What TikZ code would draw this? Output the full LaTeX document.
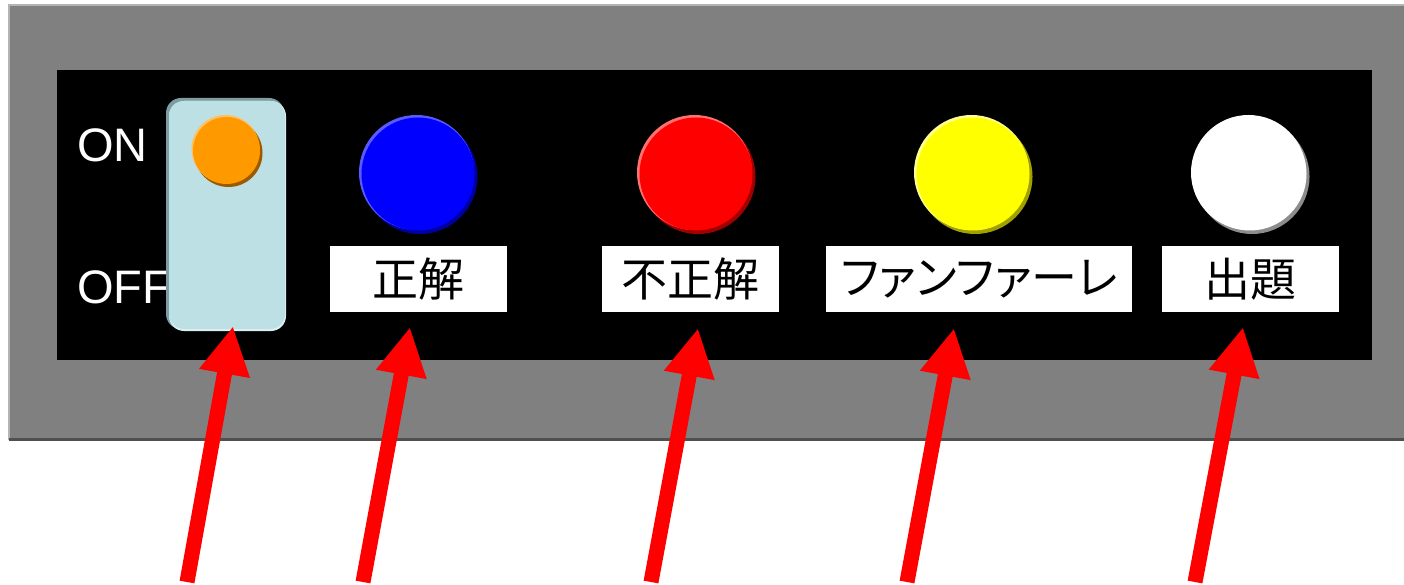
\documentclass[tikz,border=0pt]{standalone}
\usepackage{fontspec}
\setmainfont{Liberation Sans}
\newfontfamily\cjk{Noto Sans CJK JP}
\newfontfamily\cjkp[RawFeature=+palt]{Noto Sans CJK JP}
\usetikzlibrary{arrows.meta,calc}
\definecolor{panelgrey}{HTML}{808080}
\definecolor{panellight}{HTML}{B4B4B4}
\definecolor{paneldark}{HTML}{505050}
\definecolor{swfill}{HTML}{BCE0E3}
\definecolor{swdark}{HTML}{7C9EA2}
\definecolor{swlight}{HTML}{DCEFF1}
\definecolor{knobfill}{HTML}{FF9900}
\definecolor{knobdark}{HTML}{9C5A00}
\definecolor{knoblight}{HTML}{FFC060}
\definecolor{bluebtn}{HTML}{0000FF}
\definecolor{bluehi}{HTML}{5A5AFF}
\definecolor{bluesh}{HTML}{0000A0}
\definecolor{redbtn}{HTML}{FF0000}
\definecolor{redhi}{HTML}{FF7070}
\definecolor{redsh}{HTML}{A00000}
\definecolor{yelbtn}{HTML}{FFFF00}
\definecolor{yelhi}{HTML}{FFFF90}
\definecolor{yelsh}{HTML}{A0A000}
\definecolor{whtbtn}{HTML}{FFFFFF}
\definecolor{whthi}{HTML}{FFFFFF}
\definecolor{whtsh}{HTML}{8C8C8C}
\definecolor{arrowred}{HTML}{FF0000}
\tikzset{
  button/.style={circle, minimum size=116pt, inner sep=0pt},
  labelbox/.style={rectangle, fill=white, minimum height=66pt, inner sep=0pt, font=\cjk\fontsize{46pt}{50pt}\selectfont, text=black},
  sidetext/.style={anchor=base west, inner sep=0pt, text=white, font=\fontsize{47pt}{52pt}\selectfont},
  redarrow/.style={draw=arrowred, line width=15pt, -{Triangle[length=48pt, width=48pt]}, fill=arrowred},
}
\begin{document}
\begin{tikzpicture}[x=1pt,y=-1pt]
\useasboundingbox (0,0) rectangle (1404,585);
\fill[white] (0,0) rectangle (1404,585);
% outer grey panel
\fill[panelgrey] (9,5) rectangle (1404,440);
\draw[panellight, line width=2pt] (9,440) -- (9,5) -- (1404,5);
\draw[paneldark, line width=2.5pt] (9,439.5) -- (1404,439.5);
% black face
\fill[black] (57,70) rectangle (1372,360);
% ON / OFF
\node[sidetext] (on) at (77,162) {ON};
\node[sidetext] (off) at (77,303) {OFF};
% switch
\fill[swdark, rounded corners=15pt] (166,98) rectangle (284,329);
\fill[swlight, rounded corners=15pt] (169,101) rectangle (286,331);
\node[rectangle, rounded corners=15pt, fill=swfill, minimum width=116pt, minimum height=228pt, inner sep=0pt] (sw) at (227,215) {};
\fill[knobdark] (228.5,153) circle[radius=34pt];
\fill[knoblight] (225.5,149) circle[radius=34pt];
\node[circle, fill=knobfill, minimum size=67pt, inner sep=0pt] (knob) at (226.5,150.5) {};
% buttons
\foreach \n/\x/\c in {b1/418/blue, b2/696/red, b3/973/yel, b4/1250/wht}{
  \fill[\c sh] (\x+2,176.5) circle[radius=57.5pt];
  \fill[\c hi] (\x-1.5,172.5) circle[radius=57.5pt];
  \node[button, fill=\c btn, minimum size=113pt] (\n) at (\x,174) {};
}
% labels
\node[labelbox, minimum width=177pt] (l1) at (418.5,279) {正解};
\node[labelbox, minimum width=177pt] (l2) at (690.5,279) {不正解};
\node[labelbox, minimum width=306pt, font=\cjkp\fontsize{46pt}{50pt}\selectfont] (l3) at (979,279) {ファンファーレ};
\node[labelbox, minimum width=177pt] (l4) at (1250.5,279) {出題};
% arrow tails
\coordinate (t0) at (187,582);
\coordinate (t1) at (363,582);
\coordinate (t2) at (651,582);
\coordinate (t3) at (907,582);
\coordinate (t4) at (1195,582);
\draw[redarrow] (t0) -- ($(sw.south)+(6,-3)$);
\draw[redarrow] (t1) -- ($(l1.south)+(-8.5,15)$);
\draw[redarrow] (t2) -- ($(l2.south)+(7.5,16)$);
\draw[redarrow] (t3) -- ($(l3.south)+(-25,16)$);
\draw[redarrow] (t4) -- ($(l4.south)+(-7.5,15)$);
\end{tikzpicture}
\end{document}
